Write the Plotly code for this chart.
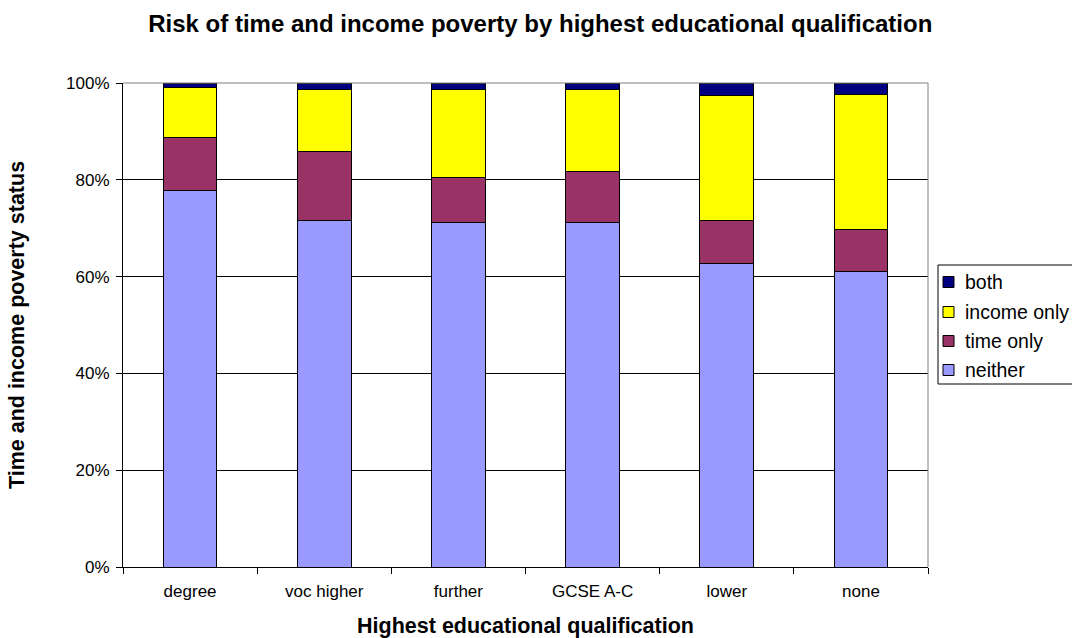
import plotly.graph_objects as go

categories = ["degree", "voc higher", "further", "GCSE A-C", "lower", "none"]
neither = [77.8, 71.6, 71.2, 71.1, 62.7, 61.0]
time_only = [11.0, 14.3, 9.3, 10.6, 8.8, 8.8]
income_only = [10.3, 12.7, 18.2, 16.9, 25.9, 27.9]
both = [0.9, 1.4, 1.3, 1.4, 2.6, 2.3]

series_names = ["neither", "time only", "income only", "both"]
series_values = [neither, time_only, income_only, both]
series_colors = ["#9999FF", "#993366", "#FFFF00", "#000080"]

fig = go.Figure()
for name, vals, color in zip(series_names, series_values, series_colors):
    fig.add_trace(go.Bar(
        x=categories, y=vals, name=name,
        marker=dict(color=color, line=dict(color="black", width=1)),
        width=0.4, showlegend=False,
    ))

font = "Liberation Sans, Arial, sans-serif"
W, H = 1072, 638
L, R, T, B = 123, 144, 83, 71
pw, ph = W - L - R, H - T - B


def px_x(x):
    return (x - L) / pw


def px_y(y):
    return (H - B - y) / ph


fig.update_layout(
    barmode="stack",
    width=W, height=H,
    margin=dict(l=L, r=R, t=T, b=B, autoexpand=False),
    paper_bgcolor="white", plot_bgcolor="white",
    font=dict(family=font, size=17, color="black"),
    title=dict(
        text="<b>Risk of time and income poverty by highest educational qualification</b>",
        x=0.504, xanchor="center", y=0.963, yanchor="middle",
        font=dict(size=24, family=font),
    ),
)
fig.update_xaxes(
    showline=True, linecolor="black", linewidth=1, mirror=False,
    ticks="outside", tickson="boundaries", ticklen=6, tickcolor="black",
    ticklabelstandoff=9,
    title=dict(text="<b>Highest educational qualification</b>", font=dict(size=21.5), standoff=19),
    tickfont=dict(size=17),
)
fig.update_yaxes(
    range=[0, 100], dtick=20, ticksuffix="%",
    showline=True, linecolor="black", linewidth=1,
    ticks="outside", ticklen=6, tickcolor="black",
    ticklabelstandoff=3,
    showgrid=True, gridcolor="black", gridwidth=1,
    title=dict(text="<b>Time and income poverty status</b>", font=dict(size=21.5), standoff=35),
    tickfont=dict(size=17),
)
# grey border along the top and right of the plot area
fig.add_shape(type="line", xref="paper", yref="paper", x0=0, x1=1, y0=1, y1=1,
              line=dict(color="#808080", width=1))
fig.add_shape(type="line", xref="paper", yref="paper", x0=1, x1=1, y0=0, y1=1,
              line=dict(color="#808080", width=1))

# legend box drawn beside the plot, top entry = last series
fig.add_shape(type="rect", xref="paper", yref="paper",
              x0=px_x(938), x1=px_x(1076), y0=px_y(384), y1=px_y(265),
              line=dict(color="black", width=1), fillcolor="white")
row_y = [282, 312, 341, 370]
for i, (name, color) in enumerate(zip(series_names[::-1], series_colors[::-1])):
    cy = row_y[i]
    fig.add_shape(type="rect", xref="paper", yref="paper",
                  x0=px_x(943), x1=px_x(954), y0=px_y(cy + 5.5), y1=px_y(cy - 5.5),
                  line=dict(color="black", width=1), fillcolor=color)
    fig.add_annotation(xref="paper", yref="paper", x=px_x(963), y=px_y(cy),
                       xanchor="left", yanchor="middle", showarrow=False,
                       text=name, font=dict(size=19.5, family=font, color="black"))

fig.write_html("out.html")
